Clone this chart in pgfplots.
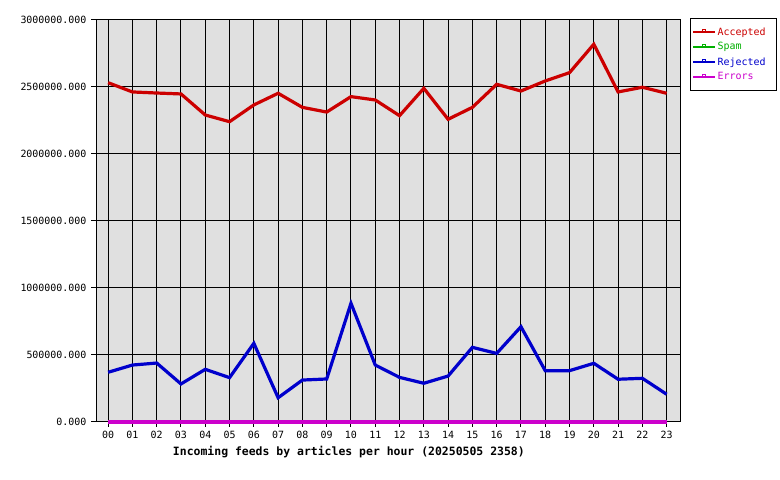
\documentclass[border=0pt]{standalone}
\usepackage{fontspec}
\setmainfont{DejaVu Sans Mono}
\usepackage{pgfplots}
\pgfplotsset{compat=1.18}
\definecolor{acc}{HTML}{CC0000}
\definecolor{spm}{HTML}{00B000}
\definecolor{rej}{HTML}{0000CC}
\definecolor{err}{HTML}{CC00CC}
\definecolor{bgc}{HTML}{E0E0E0}
\begin{document}
\begin{tikzpicture}[x=1bp,y=1bp]
\useasboundingbox (0,0) rectangle (780,480);
\begin{axis}[
  at={(96bp,58bp)}, anchor=south west,
  scale only axis, width=584bp, height=402bp,
  xmin=-0.5, xmax=23.55, ymin=0, ymax=3000000,
  axis background/.style={fill=bgc},
  xtick={0,...,23},
  xticklabels={00,01,02,03,04,05,06,07,08,09,10,11,12,13,14,15,16,17,18,19,20,21,22,23},
  ytick={0,500000,1000000,1500000,2000000,2500000,3000000},
  yticklabels={0.000,500000.000,1000000.000,1500000.000,2000000.000,2500000.000,3000000.000},
  scaled y ticks=false,
  xtick pos=bottom, ytick pos=left,
  grid=major, major grid style={black, line width=1bp},
  tick style={black, line width=1bp},
  tick align=outside, major tick length=5bp,
  axis line style={black, line width=1bp},
  ticklabel style={font=\fontsize{10}{12}\selectfont},
  yticklabel style={xshift=-1bp},
  xticklabel style={yshift=-1bp},
  xlabel={\bfseries Incoming feeds by articles per hour (20250505 2358)},
  xlabel style={font=\fontsize{11.5}{13}\selectfont, at={(axis description cs:0.433,0)}, anchor=center, yshift=-30bp},
  clip=false,
  legend cell align=left,
  legend style={at={(1.017,1.005)}, anchor=north west, draw, line width=1bp, fill=white,
    font=\fontsize{10}{12}\selectfont, row sep=0bp, inner xsep=2bp, inner ysep=6bp,
    nodes={inner xsep=2bp, inner ysep=0bp, minimum height=15bp}},
  legend image code/.code={
    \draw[#1, line width=1.3bp] (0bp,0bp) -- (22bp,0bp);
    \draw[#1, line width=1.3bp] (9.5bp,0bp) -- (9.5bp,2.2bp) -- (12.5bp,2.2bp) -- (12.5bp,0bp);
  },
]
\addplot[acc, line width=3.2bp] coordinates {
(0,2532000) (1,2463000) (2,2455000) (3,2448000) (4,2291000) (5,2241000)
(6,2366000) (7,2453000) (8,2348000) (9,2313000) (10,2428000) (11,2403000)
(12,2286000) (13,2490000) (14,2259000) (15,2348000) (16,2520000) (17,2470000)
(18,2545000) (19,2607000) (20,2819000) (21,2463000) (22,2498000) (23,2453000)};
\addlegendentry{\makebox[55bp][l]{\textcolor{acc}{Accepted}}}
\addplot[spm, line width=3.2bp] coordinates {
(0,0) (1,0) (2,0) (3,0) (4,0) (5,0) (6,0) (7,0) (8,0) (9,0) (10,0) (11,0)
(12,0) (13,0) (14,0) (15,0) (16,0) (17,0) (18,0) (19,0) (20,0) (21,0) (22,0) (23,0)};
\addlegendentry{\textcolor{spm}{Spam}}
\addplot[rej, line width=3.2bp] coordinates {
(0,371000) (1,425000) (2,440000) (3,284000) (4,393000) (5,331000)
(6,587000) (7,181000) (8,313000) (9,321000) (10,886000) (11,425000)
(12,333000) (13,289000) (14,343000) (15,557000) (16,512000) (17,711000)
(18,383000) (19,383000) (20,438000) (21,319000) (22,326000) (23,207000)};
\addlegendentry{\textcolor{rej}{Rejected}}
\addplot[err, line width=3.2bp] coordinates {
(0,0) (1,0) (2,0) (3,0) (4,0) (5,0) (6,0) (7,0) (8,0) (9,0) (10,0) (11,0)
(12,0) (13,0) (14,0) (15,0) (16,0) (17,0) (18,0) (19,0) (20,0) (21,0) (22,0) (23,0)};
\addlegendentry{\textcolor{err}{Errors}}
\end{axis}
\end{tikzpicture}
\end{document}
